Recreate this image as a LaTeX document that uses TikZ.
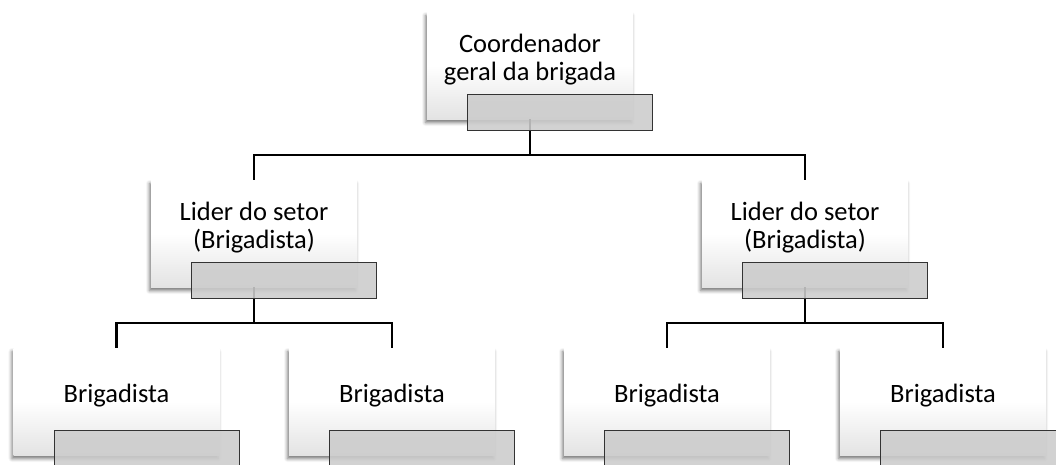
\documentclass[tikz,border=0pt]{standalone}
\usepackage{fontspec}
\setmainfont{Carlito}
\usetikzlibrary{positioning}
\usetikzlibrary{calc}
\usetikzlibrary{shadows.blur}

\begin{document}
\begin{tikzpicture}[
    x=1pt, y=1pt,
    card/.style={rectangle, minimum width=206pt, minimum height=107pt, inner sep=0pt,
        top color=white, bottom color=black!11, middle color=white, draw=none,
        blur shadow={shadow xshift=-1.5pt, shadow yshift=-3.5pt, shadow blur radius=3.5pt, shadow opacity=55}},
    cardtext/.style={align=center, font=\fontsize{26.5}{28}\selectfont, inner sep=0pt},
    tab/.style={rectangle, minimum width=185pt, minimum height=36pt, inner sep=0pt,
        fill=black!20, fill opacity=0.88, draw=black!80, line width=0.9pt, anchor=south east},
    conn/.style={draw=black, line width=2.4pt}
]
    \useasboundingbox (0,0) rectangle (1056,-464);

    % junctions of the connectors
    \coordinate (bus0) at (530,-155);
    \coordinate (bus1) at (254,-323);
    \coordinate (bus2) at (805,-323);

    % cards
    \node[card] (coord) at (530,-65.5) {};
    \node[card] (lider1) at (254,-233.5) {};
    \node[card] (lider2) at (805,-233.5) {};
    \node[card] (brig1) at (116.5,-401.5) {};
    \node[card] (brig2) at (392,-401.5) {};
    \node[card] (brig3) at (667,-401.5) {};
    \node[card] (brig4) at (943,-401.5) {};

    % connectors
    \draw[conn] (coord.south) -- (bus0) -| (lider1.north);
    \draw[conn] (bus0) -| (lider2.north);
    \draw[conn] (lider1.south) -- (bus1) -| (brig1.north);
    \draw[conn] (bus1) -| (brig2.north);
    \draw[conn] (lider2.south) -- (bus2) -| (brig3.north);
    \draw[conn] (bus2) -| (brig4.north);

    % texts
    \node[cardtext] (coordtxt) at ([yshift=6pt]coord.center) {Coordenador\\geral da brigada};
    \node[cardtext] (lider1txt) at ([yshift=6pt]lider1.center) {Lider do setor\\(Brigadista)};
    \node[cardtext] (lider2txt) at ([yshift=6pt]lider2.center) {Lider do setor\\(Brigadista)};
    \node[cardtext] (brig1txt) at ([yshift=6pt]brig1.center) {Brigadista};
    \node[cardtext] (brig2txt) at ([yshift=6pt]brig2.center) {Brigadista};
    \node[cardtext] (brig3txt) at ([yshift=6pt]brig3.center) {Brigadista};
    \node[cardtext] (brig4txt) at ([yshift=6pt]brig4.center) {Brigadista};

    % gray tabs
    \node[tab] (coordtab) at ([shift={(20pt,-12pt)}]coord.south east) {};
    \node[tab] (lider1tab) at ([shift={(20pt,-12pt)}]lider1.south east) {};
    \node[tab] (lider2tab) at ([shift={(20pt,-12pt)}]lider2.south east) {};
    \node[tab] (brig1tab) at ([shift={(20pt,-12pt)}]brig1.south east) {};
    \node[tab] (brig2tab) at ([shift={(20pt,-12pt)}]brig2.south east) {};
    \node[tab] (brig3tab) at ([shift={(20pt,-12pt)}]brig3.south east) {};
    \node[tab] (brig4tab) at ([shift={(20pt,-12pt)}]brig4.south east) {};
\end{tikzpicture}
\end{document}
